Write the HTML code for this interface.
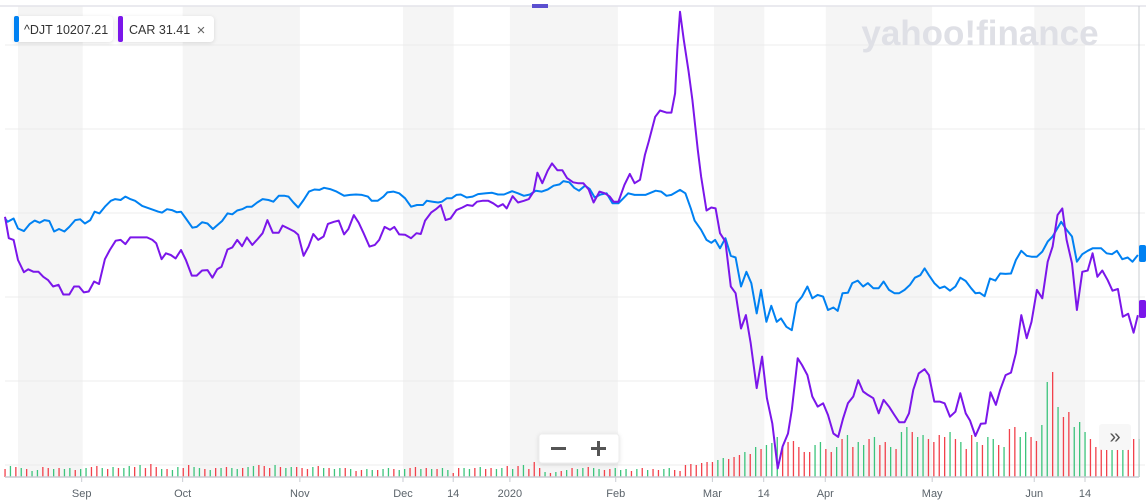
<!DOCTYPE html>
<html><head><meta charset="utf-8">
<style>
html,body{margin:0;padding:0;background:#fff;}
body{width:1146px;height:502px;overflow:hidden;font-family:"Liberation Sans",sans-serif;}
svg{display:block;}
.tick{font-size:11px;fill:#5b636a;text-anchor:middle;}
</style></head><body>
<svg id="chart" width="1146" height="502">
  <g id="bands"></g>
  <line x1="0" y1="6" x2="1146" y2="6" stroke="#e3e4ea" stroke-width="1.5"/>
  <rect x="532" y="4" width="16" height="4" fill="#5b4fd0"/>
  <g id="grid"></g>
  <text x="980" y="45" font-size="35" font-weight="bold" fill="#dfe0e6" text-anchor="middle" font-family="'Liberation Sans',sans-serif">yahoo!finance</text>
  <g id="vol"></g>
  <g id="lines"></g>
  <line x1="5" y1="477" x2="1139" y2="477" stroke="#c9ccd2" stroke-width="1.5"/>
  <line x1="1139" y1="6" x2="1139" y2="477" stroke="#c9ccd2" stroke-width="1"/>
  <g id="xt"></g>
  <rect x="1139" y="245" width="7" height="17" rx="2" fill="#0081f2"/>
  <rect x="1139" y="300" width="7" height="18" rx="2" fill="#7b16ea"/>
  <g>
    <rect x="14" y="16" width="99" height="26" rx="4" fill="#fff" style="filter:drop-shadow(0 1px 2px rgba(0,0,0,.12))"/>
    <rect x="14" y="16" width="5" height="26" rx="2" fill="#0081f2"/>
    <text x="24" y="34" font-size="12.5" fill="#333">^DJT 10207.21</text>
  </g>
  <g>
    <rect x="118" y="16" width="96" height="26" rx="4" fill="#fff" style="filter:drop-shadow(0 1px 2px rgba(0,0,0,.12))"/>
    <rect x="118" y="16" width="5" height="26" rx="2" fill="#7b16ea"/>
    <text x="129" y="34" font-size="12.5" fill="#333">CAR 31.41</text>
    <text x="201" y="35" font-size="15" fill="#666" text-anchor="middle">×</text>
  </g>
  <g>
    <rect x="539" y="434" width="80" height="29" rx="3" fill="#fff" stroke="#eee" style="filter:drop-shadow(0 1px 2px rgba(0,0,0,.12))"/>
    <rect x="551" y="447" width="15" height="3" fill="#555"/>
    <g><rect x="591" y="447" width="15" height="3" fill="#555"/><rect x="597" y="441" width="3" height="15" fill="#555"/></g>
  </g>
  <g>
    <rect x="1099" y="424" width="32" height="26" rx="3" fill="#f7f7f7"/>
    <text x="1115" y="443" font-size="20" fill="#555" text-anchor="middle">»</text>
  </g>
</svg>
<script>
const djtDays=[0,0.5,1.6,2.4,3.5,4.6,5.5,6.4,7.3,8.2,9.1,10,11,11.9,13,13.9,14.8,15.8,16.6,17.5,18.5,19.6,20.4,21.4,22.3,23.2,24.1,25.4,26.9,28.4,29.1,30,30.9,31.8,32.6,33.5,34.7,35.5,36.5,37.5,38.5,39.3,40.2,41.2,42.1,43,43.9,44.8,45.7,46.7,47.7,48.8,49.7,50.7,51.8,52.5,53.4,54.3,55.3,56.3,57.3,58.2,59.1,60.2,61.4,62.8,63.9,65,66.1,67.2,67.9,69,70.1,70.8,71.9,73,74.1,75.2,76.3,77.4,78.1,79.2,80.2,80.9,81.8,82.7,83.6,84.4,85.5,86.6,87.6,89.1,90.2,91.3,92.4,93.9,95,96.1,97.2,98.3,99.4,100.5,101.6,102.7,103.4,104.5,105.4,106.3,107.4,108.3,109.2,110.3,111.4,112.5,113.6,115.4,116.6,118.6,120.5,121.5,122.5,123.4,125,126,127,127.7,128.9,129.9,130.8,131.5,132.4,133.4,134.4,135.3,136.3,137.3,138.2,139.2,140,141,141.9,142.9,143.7,144.7,145.7,146.6,147.6,148.6,149.5,150.5,151.5,152.4,153.4,154.2,155.1,156.1,156.9,157.9,158.9,159.8,160.8,161.8,162.7,163.7,164.7,165.6,166.6,167.6,168.5,169.5,170.3,171.1,172.1,173.1,174,175,176,176.9,177.9,178.9,179.7,180.5,181.4,182.4,183.4,184.3,185.3,186.3,187.2,188.2,189.2,190.1,191.1,192.1,193.1,194,195.6,196.6,197.6,198.5,199.5,200.5,201.4,203,204,205,205.9,206.9,207.9,208.8,209.8];
const djtVals=[-1.3,-2.1,-1.3,-3.7,-4.3,-2.6,-1.8,-2.3,-1.7,-1.9,-4.4,-3.8,-4.4,-3.3,-1.7,-1.5,-2.5,-1.7,0.3,-0.1,1.5,2.9,3.3,3.1,3.9,3.3,2.9,1.7,1,0.3,0.1,0.9,0.7,0.2,0.3,-1.3,-3.5,-3.3,-2.2,-2.5,-3.8,-2.9,-1.9,-0.1,-0.3,0.6,0.9,1.5,1.5,2.5,3.3,3.1,2.7,4.1,4.1,3.9,2.5,1.3,3.1,5.1,5.6,5.5,6,5.7,5.1,4.1,4.3,4.4,4.3,3.9,2.9,2.9,3.9,4.9,5.1,4.7,3.5,1.5,1.9,1.9,2.9,2.7,2.5,2.7,3.5,3.5,4.3,4.4,3.7,3.9,4.5,4.7,4.8,4.4,4.4,5.2,4.7,4.1,4.4,5.3,5.1,5.6,6.5,6.8,7.6,7.3,6,5.3,6.5,5.7,3.7,4.4,4.7,2.3,2.3,4.7,4.3,4.3,5.3,5.1,4.1,4.3,5.5,4.7,1.1,-1.8,-4,-6.4,-7.1,-6.4,-8.4,-6,-10.2,-10.6,-17.5,-14,-16.7,-23.9,-18.3,-25.9,-22.1,-25.9,-25.1,-27.1,-27.9,-21.5,-19.9,-17.5,-20.3,-19.5,-19.9,-23.1,-22.5,-23.3,-19.1,-19,-16.7,-16.1,-17.5,-16.7,-17.9,-17.9,-16.3,-18.3,-19.1,-19.1,-18.3,-17.1,-15.4,-14.8,-13.2,-14.8,-16.7,-17.9,-17.5,-18.5,-17.5,-15.4,-16.2,-17.9,-19.1,-19,-19.8,-15.6,-16.1,-14.4,-14.5,-14.4,-11.2,-9,-10.2,-10.4,-10.4,-9.2,-6.8,-5.6,-2.1,-4,-5.6,-11.6,-9.8,-9,-8.4,-8.4,-9.6,-9.8,-9,-11,-10.6,-11.6,-10];
const carDays=[0,0.7,1.6,2.4,3.5,4.3,5.3,6.2,7.1,8,8.9,9.9,10.8,11.9,12.8,13.7,14.6,15.5,16.5,17.4,18.5,19.4,20.5,21.4,22.3,23.2,24.3,26.3,27.3,28,29,29.8,30.7,31.6,32.6,33.5,34.6,35.5,36.5,37.5,38.4,39.3,40.1,41.2,42.1,43,43.9,44.8,45.8,46.8,47.7,48.6,49.6,50.7,51.4,52.5,53.6,54.3,55.3,56.2,57.1,58,59,59.8,60.9,61.8,62.8,63.6,64.6,65.5,66.4,67.5,68.5,69.3,70.3,71.3,72.1,73,74.1,75.2,76.2,77,77.8,78.9,79.8,80.7,81.6,82.5,83.6,84.7,85.6,86.6,87.4,88.4,89.5,90.4,91.3,92.2,92.9,94,95,96.1,97,97.9,98.6,99.5,100.5,101.3,102.3,103.2,104.1,105.2,106.1,107.1,108.1,109,110.1,111.1,112,112.7,113.6,114.7,115.7,116.6,117.6,118.5,119.2,120.4,121.3,122.5,123.4,124.1,124.5,125,125.7,126.6,127.3,128.3,128.9,129.9,130.8,131.6,132.4,133.4,134.4,135.3,136.3,137.2,138.1,139.2,140.2,141.1,142.1,143.1,144,145,145.7,146.8,147.6,148.6,149.5,150.5,151.5,152.4,153.4,154.3,155.2,156.1,157.1,158,158.9,159.8,160.8,161.8,162.7,163.7,164.7,165.6,166.6,167.4,168.2,169.2,170.3,171.1,172.1,173.1,174,175,176,176.9,177.9,178.7,179.7,180.7,181.6,182.5,183.5,184.3,185.3,186.3,187.2,188.2,189.2,190.1,191.1,192.1,193.1,194,194.9,195.8,196.6,197.6,198.5,199.5,200.5,201.4,202.3,203.2,204.2,205.1,206.1,207,208,209,209.8];
const carVals=[-0.9,-6,-6.4,-11.2,-14.1,-13.4,-14,-14,-15.2,-16,-17.5,-17.1,-19.4,-19.4,-17.5,-17.5,-18.9,-18.7,-16.3,-16.9,-11,-8.8,-6.6,-6.4,-7.4,-5.8,-5.8,-5.8,-6.4,-7.2,-11,-9.6,-10,-10.8,-8.8,-11.2,-14.9,-14.9,-13.7,-13.6,-15.4,-13.4,-12.8,-8.7,-8.2,-6.4,-7.9,-5.8,-7.6,-6.2,-4.8,-1.7,-4.7,-4.7,-3,-3.7,-4.4,-5.2,-10.2,-8,-5,-6.4,-5.6,-2.6,-2.1,-1.8,-5.1,-3.8,-0.5,-2.3,-4.8,-8,-7.6,-6.4,-3.3,-4,-3.3,-5.1,-5.2,-6,-4.8,-5,-1.8,0.1,0.9,1.9,-1.7,-1.3,0.7,1.3,1.9,1.7,2.7,2.9,2.9,2.3,1.5,2.1,1.1,4,2.5,2.9,3.3,5.1,9.6,7.1,10.1,11.8,10.2,10.2,8.3,7.3,7.1,7.1,5.6,2.5,5.1,4.7,3.9,2.7,2.7,6.7,9.3,7.1,7.9,13.8,17,22.9,24.4,23.9,23.9,28.5,38.8,47.9,41.2,33.7,26.9,15,8.7,0.6,1.3,1.1,-4.8,-6.8,-17.5,-19.1,-27.5,-24.3,-31,-41.7,-34.2,-44.1,-50.1,-60.8,-55.6,-52.5,-46.9,-34.6,-36.2,-38.6,-43.7,-46.1,-45.3,-48.1,-52.5,-53.3,-48.9,-45.3,-43.7,-39.8,-42.5,-43.3,-44.1,-47.7,-44.5,-46.1,-48.1,-49.8,-49.8,-47.7,-42.1,-38.2,-37.2,-38.6,-44.9,-44.9,-45.3,-48.5,-47.3,-42.9,-47.7,-49.4,-53.1,-50.2,-50.1,-42.7,-45.7,-42.1,-38.6,-38,-33.4,-24.3,-29.8,-25.9,-18.3,-20.3,-11.6,-8,-0.5,1.1,-6.4,-12,-23.1,-14,-13.7,-9.6,-15.2,-13.7,-16,-18.5,-18.1,-24.7,-24,-28.5,-24.3];
const volumes=[8,11,10,9,8,6,7,10,9,8,9,8,9,7,8,9,10,11,9,8,10,9,9,11,10,12,9,13,10,8,8,7,10,9,12,10,9,8,7,9,9,10,9,8,9,10,11,12,11,9,12,10,9,10,10,9,8,10,11,9,9,8,9,9,8,6,7,8,7,7,8,9,8,7,8,9,10,8,9,8,8,9,7,4,9,9,8,9,10,8,9,8,9,11,8,11,12,8,15,9,5,4,5,6,7,9,8,9,10,9,8,7,8,9,7,8,6,8,9,7,8,7,8,9,7,6,12,13,12,14,15,15,17,19,18,20,22,25,23,30,28,32,34,40,30,35,36,30,25,25,32,35,28,25,30,38,42,30,35,32,38,40,32,35,30,28,45,50,45,40,42,38,35,42,40,45,38,35,28,42,35,32,40,38,32,30,48,50,40,45,40,36,52,95,105,70,60,65,50,55,45,38,30,32,35,30,32,35,40,38,38];
const volDir="RGRGRGGRRGRGGRGGRRGRGRGGRGRRRGRGGRRGGRGRGRGGRGGRRRGRGGRRRGRGRGGRGRRGGRGGRGGRRGRGRGGRRGGRGRRGGRGRGRRRGRGRGRGGRGGRRGGGRGRGRRGGRRRRRRRRGGRRRGRGRGGGRRRRRRGGRRGRGRGGRGRRGRGGRGGRRRRGRGRRGRGGRGRRGGRRGGRGRRGGGRRRRGRGRRGGRRRRGGRRRRGG";
const tickLabels=["Sep","Oct","Nov","Dec","14","2020","Feb","Mar","14","Apr","May","Jun","14"];
const tickDays=[14.2,32.9,54.6,73.7,83,93.5,113.1,131,140.5,151.9,171.7,190.6,200];
const gridVals=[40,20,0,-20,-40,-60];
const bandDays=[[2.4,14.4],[32.9,54.6],[73.7,83.1],[93.5,113.5],[131.3,140.6],[152,171.7],[190.6,200]];

const NS="http://www.w3.org/2000/svg";
const xS=d=>5+d*5.4;
const yS=v=>213-v*4.2;
const vS=v=>v*1.0;
function mk(tag,attrs,parent){const e=document.createElementNS(NS,tag);for(const k in attrs)e.setAttribute(k,attrs[k]);parent.appendChild(e);return e;}
const bands=document.getElementById('bands');
bandDays.forEach(b=>{
  const r=mk('rect',{x:xS(b[0]),y:6,width:xS(b[1])-xS(b[0]),height:471,fill:'#f5f5f5'},bands);
  
  
});
const grid=document.getElementById('grid');
gridVals.forEach(v=>{
  const l=mk('line',{x1:5,x2:1145,y1:yS(v),y2:yS(v),stroke:'#ececec','stroke-width':1},grid);
  
  
});
const vol=document.getElementById('vol');
volumes.forEach((v,i)=>{
  const x=xS(i);
  const r=mk('rect',{x:x-0.6,y:477-vS(v),width:1.3,height:vS(v),fill:volDir[i]==='G'?'#3cc47c':'#f2414b'},vol);
  
  
});
const lines=document.getElementById('lines');
function path(days,vals,color,name){
  const d=days.map((dd,i)=>(i?'L':'M')+xS(dd).toFixed(1)+','+yS(vals[i]).toFixed(1)).join('');
  const p=mk('path',{d:d,fill:'none',stroke:color,'stroke-width':2,'stroke-linejoin':'round'},lines);
  
  
}
path(djtDays,djtVals,'#0081f2','djt-line');
path(carDays,carVals,'#7b16ea','car-line');
const xt=document.getElementById('xt');
tickLabels.forEach((t,i)=>{
  const x=xS(tickDays[i]);
  const l=mk('line',{x1:x,x2:x,y1:477,y2:482,stroke:'#c9ccd2'},xt);
  
  
  const tx=mk('text',{x:x,y:497,class:'tick'},xt);
  tx.textContent=t;
  
  
});
</script>
</body></html>
